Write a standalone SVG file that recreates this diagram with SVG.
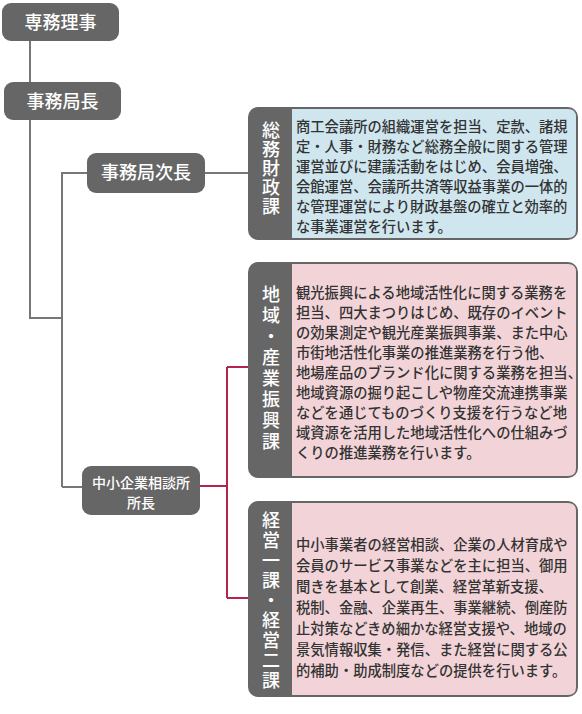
<svg xmlns="http://www.w3.org/2000/svg" width="582" height="714" viewBox="0 0 582 714">
<style>
.node{fill:#666666}
.nt{font-family:"Noto Sans CJK JP","Noto Sans CJK SC",sans-serif;fill:#ffffff;font-weight:500;text-anchor:middle}
.bt{font-family:"Noto Sans CJK JP","Noto Sans CJK SC",sans-serif;fill:#333333;font-weight:500;font-size:14.3px}
.vt{font-family:"Noto Sans CJK JP","Noto Sans CJK SC",sans-serif;fill:#ffffff;font-weight:500;font-size:18px;text-anchor:middle}
.gl{stroke:#777777;stroke-width:2;fill:none}
.rl{stroke:#b3254c;stroke-width:2;fill:none}
</style>
<g id="connectors">
<path class="gl" d="M30 40 V82 M30 120 V318 H62 M62 172 V487 M62 173 H87 M62 487 H82 M205 173 H249"/>
<path class="rl" d="M200 486 H227 M227 367 V598 M227 367 H249 M227 598 H249"/>
</g>
<g id="n1">
<rect class="node" x="2" y="3" width="117" height="38" rx="9"/>
<text class="nt" x="60.5" y="28.5" font-size="18">専務理事</text>
</g>
<g id="n2">
<rect class="node" x="4" y="82" width="117" height="38" rx="9"/>
<text class="nt" x="62.5" y="107.5" font-size="18">事務局長</text>
</g>
<g id="n3">
<rect class="node" x="87" y="153" width="118" height="40" rx="9"/>
<text class="nt" x="146" y="179" font-size="18">事務局次長</text>
</g>
<g id="n4">
<rect class="node" x="82" y="466" width="118" height="49" rx="9"/>
<text class="nt" x="141" y="488" font-size="14">中小企業相談所</text>
<text class="nt" x="141" y="508" font-size="14">所長</text>
</g>
<g id="b1">
<rect x="248" y="107" width="330" height="133" rx="10" fill="#666666"/>
<path d="M292 109 H568 Q576 109 576 117 V230 Q576 238 568 238 H292 Z" fill="#cfe6ef"/>
<text class="vt" x="271" y="136.5">総</text>
<text class="vt" x="271" y="155.5">務</text>
<text class="vt" x="271" y="174.5">財</text>
<text class="vt" x="271" y="193.5">政</text>
<text class="vt" x="271" y="212.5">課</text>
<text class="bt">
<tspan x="296" y="132">商工会議所の組織運営を担当、定款、諸規</tspan>
<tspan x="296" y="152">定・人事・財務など総務全般に関する管理</tspan>
<tspan x="296" y="172">運営並びに建議活動をはじめ、会員増強、</tspan>
<tspan x="296" y="192">会館運営、会議所共済等収益事業の一体的</tspan>
<tspan x="296" y="212">な管理運営により財政基盤の確立と効率的</tspan>
<tspan x="296" y="232">な事業運営を行います。</tspan>
</text>
</g>
<g id="b2">
<rect x="248" y="262" width="330" height="216" rx="10" fill="#666666"/>
<path d="M292 264 H568 Q576 264 576 272 V468 Q576 476 568 476 H292 Z" fill="#f2d4d8"/>
<text class="vt" x="271" y="301">地</text>
<text class="vt" x="271" y="322">域</text>
<text class="vt" x="271" y="343">・</text>
<text class="vt" x="271" y="364">産</text>
<text class="vt" x="271" y="385">業</text>
<text class="vt" x="271" y="406">振</text>
<text class="vt" x="271" y="427">興</text>
<text class="vt" x="271" y="448">課</text>
<text class="bt">
<tspan x="296" y="298">観光振興による地域活性化に関する業務を</tspan>
<tspan x="296" y="318">担当、四大まつりはじめ、既存のイベント</tspan>
<tspan x="296" y="338">の効果測定や観光産業振興事業、また中心</tspan>
<tspan x="296" y="358">市街地活性化事業の推進業務を行う他、</tspan>
<tspan x="296" y="378">地場産品のブランド化に関する業務を担当、</tspan>
<tspan x="296" y="398">地域資源の掘り起こしや物産交流連携事業</tspan>
<tspan x="296" y="418">などを通じてものづくり支援を行うなど地</tspan>
<tspan x="296" y="438">域資源を活用した地域活性化への仕組みづ</tspan>
<tspan x="296" y="458">くりの推進業務を行います。</tspan>
</text>
</g>
<g id="b3">
<rect x="248" y="501" width="330" height="196" rx="10" fill="#666666"/>
<path d="M292 503 H568 Q576 503 576 511 V687 Q576 695 568 695 H292 Z" fill="#f2d4d8"/>
<text class="vt" x="271" y="526.5">経</text>
<text class="vt" x="271" y="546.5">営</text>
<text class="vt" x="271" y="566.5">一</text>
<text class="vt" x="271" y="586.5">課</text>
<text class="vt" x="271" y="606.5">・</text>
<text class="vt" x="271" y="626.5">経</text>
<text class="vt" x="271" y="646.5">営</text>
<text class="vt" x="271" y="666.5">二</text>
<text class="vt" x="271" y="686.5">課</text>
<text class="bt">
<tspan x="296" y="550">中小事業者の経営相談、企業の人材育成や</tspan>
<tspan x="296" y="571">会員のサービス事業などを主に担当、御用</tspan>
<tspan x="296" y="592">聞きを基本として創業、経営革新支援、</tspan>
<tspan x="296" y="613">税制、金融、企業再生、事業継続、倒産防</tspan>
<tspan x="296" y="634">止対策などきめ細かな経営支援や、地域の</tspan>
<tspan x="296" y="655">景気情報収集・発信、また経営に関する公</tspan>
<tspan x="296" y="676">的補助・助成制度などの提供を行います。</tspan>
</text>
</g>
</svg>
